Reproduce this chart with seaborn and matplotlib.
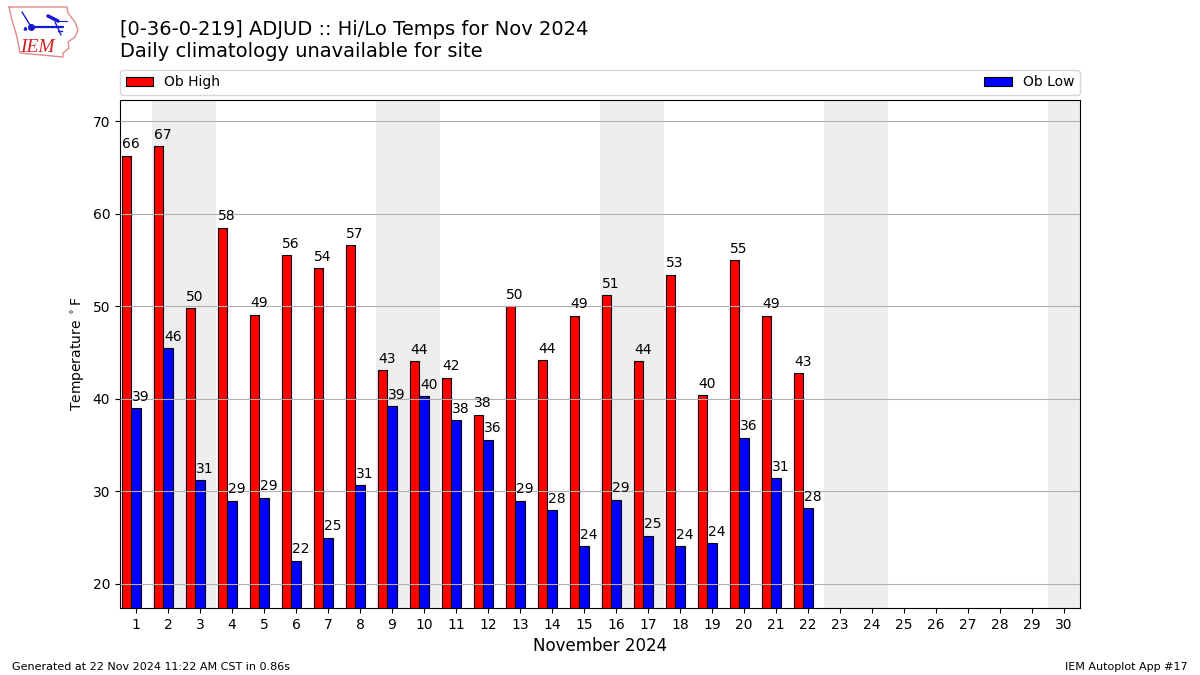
import pandas as pd
import matplotlib
matplotlib.use("Agg")
import matplotlib.pyplot as plt
import seaborn as sns

days = list(range(1, 23))
ob_high = [66.3, 67.3, 49.8, 58.5, 49.1, 55.5, 54.1, 56.6, 43.1, 44.1, 42.3,
           38.3, 50.0, 44.2, 49.0, 51.2, 44.1, 53.4, 40.4, 55.0, 49.0, 42.8]
ob_low = [39.0, 45.5, 31.2, 29.0, 29.3, 22.5, 25.0, 30.7, 39.2, 40.3, 37.7,
          35.6, 29.0, 28.0, 24.1, 29.1, 25.2, 24.1, 24.4, 35.8, 31.4, 28.2]
month_days = list(range(1, 31))
weekends = [(1.5, 3.5), (8.5, 10.5), (15.5, 17.5), (22.5, 24.5), (29.5, 30.5)]
yticks = [20, 30, 40, 50, 60, 70]

W, H = 1200, 675


def px_axes(fig, left, top, right, bottom):
    return fig.add_axes([left / W, 1 - bottom / H, (right - left) / W, (bottom - top) / H])


sns.set_theme(style="ticks", rc={"axes.linewidth": 1.0, "text.color": "black"})
plt.rcParams["font.family"] = ["DejaVu Sans"]

df = pd.concat([
    pd.DataFrame({"day": days, "temp": ob_high, "kind": "Ob High"}),
    pd.DataFrame({"day": days, "temp": ob_low, "kind": "Ob Low"}),
])
# hi bar sits left of the tick, low bar is centred on it
df["pos"] = df["day"] - 0.15

fig = plt.figure(figsize=(12, 6.75), dpi=100)
ax = px_axes(fig, 120, 100, 1080, 608)

for start, end in weekends:
    ax.axvspan(start, end, color="#eeeeee", lw=0, zorder=0)

sns.barplot(
    data=df, x="pos", y="temp", hue="kind", native_scale=True, ax=ax,
    palette={"Ob High": "#ff0000", "Ob Low": "#0000ff"},
    width=0.6, gap=0, edgecolor="black", linewidth=0.8, legend=False,
    errorbar=None, saturation=1, zorder=2,
)

for d, hi, lo in zip(days, ob_high, ob_low):
    ax.text(d - 0.43, hi + 0.8, f"{hi:.0f}", fontsize=10, color="black", zorder=5)
    ax.text(d - 0.13, lo + 0.8, f"{lo:.0f}", fontsize=10, color="black", zorder=5)

ax.set_xlim(0.5, 30.5)
ax.set_ylim(17.4, 72.3)
ax.set_xticks(month_days)
ax.set_xticklabels(month_days)
ax.set_yticks(yticks)
ax.tick_params(labelsize=10, length=3.5, width=0.8, color="black", labelcolor="black")
ax.grid(True, axis="y", color="#b0b0b0", lw=0.8, zorder=3)
ax.set_axisbelow(False)
ax.set_xlabel("November 2024", fontsize=12, color="black", labelpad=4)
ax.set_ylabel(r"Temperature $^\circ$F", fontsize=10, color="black", labelpad=4)
for s in ax.spines.values():
    s.set_visible(True)
    s.set_color("black")
    s.set_linewidth(0.8)

# legend strip above the axes
handles = [plt.Rectangle((0, 0), 1, 1, fc="#ff0000", ec="black", lw=0.8),
           plt.Rectangle((0, 0), 1, 1, fc="#0000ff", ec="black", lw=0.8)]
fig.legend(handles, ["Ob High", "Ob Low"], ncol=2, mode="expand", fontsize=10,
           loc="lower left", borderaxespad=0, frameon=True, labelcolor="black",
           bbox_to_anchor=(120 / W, 1 - 95 / H, 960 / W, 25 / H))

fig.text(120 / W, 1 - 35 / H, "[0-36-0-219] ADJUD :: Hi/Lo Temps for Nov 2024", fontsize=14, color="black")
fig.text(120 / W, 1 - 57 / H, "Daily climatology unavailable for site", fontsize=14, color="black")
fig.text(12 / W, 1 - 670 / H, "Generated at 22 Nov 2024 11:22 AM CST in 0.86s", fontsize=8, color="black")
fig.text(1188 / W, 1 - 670 / H, "IEM Autoplot App #17", fontsize=8, color="black", ha="right")

# rough IEM logo, drawn in pixel coordinates
logo = px_axes(fig, 0, 0, 90, 65)
logo.set_xlim(0, 90)
logo.set_ylim(65, 0)
logo.axis("off")
state_x = [9, 67, 68, 75, 78, 75, 68, 69, 63, 63, 20, 17, 12, 9]
state_y = [7, 7, 13, 22, 30, 37, 42, 48, 53, 57, 53, 37, 20, 7]
logo.plot(state_x, state_y, color="#e08a8a", lw=1)
logo.plot([31, 63], [27, 27], color="#1818d0", lw=1.6)
logo.plot([22, 30], [12, 25], color="#1818d0", lw=1)
logo.plot([31], [27], "o", color="#1818d0", ms=4)
logo.plot([48, 58], [16, 21], color="#1818d0", lw=2.5)
logo.plot([58, 67], [21, 21], color="#1818d0", lw=0.8)
logo.plot([55, 61], [22, 35], color="#1818d0", lw=1)
logo.plot([25], [28], "^", color="#1818d0", ms=2)
logo.plot([62, 58], [31, 31], color="#1818d0", lw=1)
logo.text(20, 52, "IEM", color="#d02020", fontsize=14, family="Liberation Serif", style="italic")

fig.savefig("out.png", dpi=100)
plt.close(fig)
